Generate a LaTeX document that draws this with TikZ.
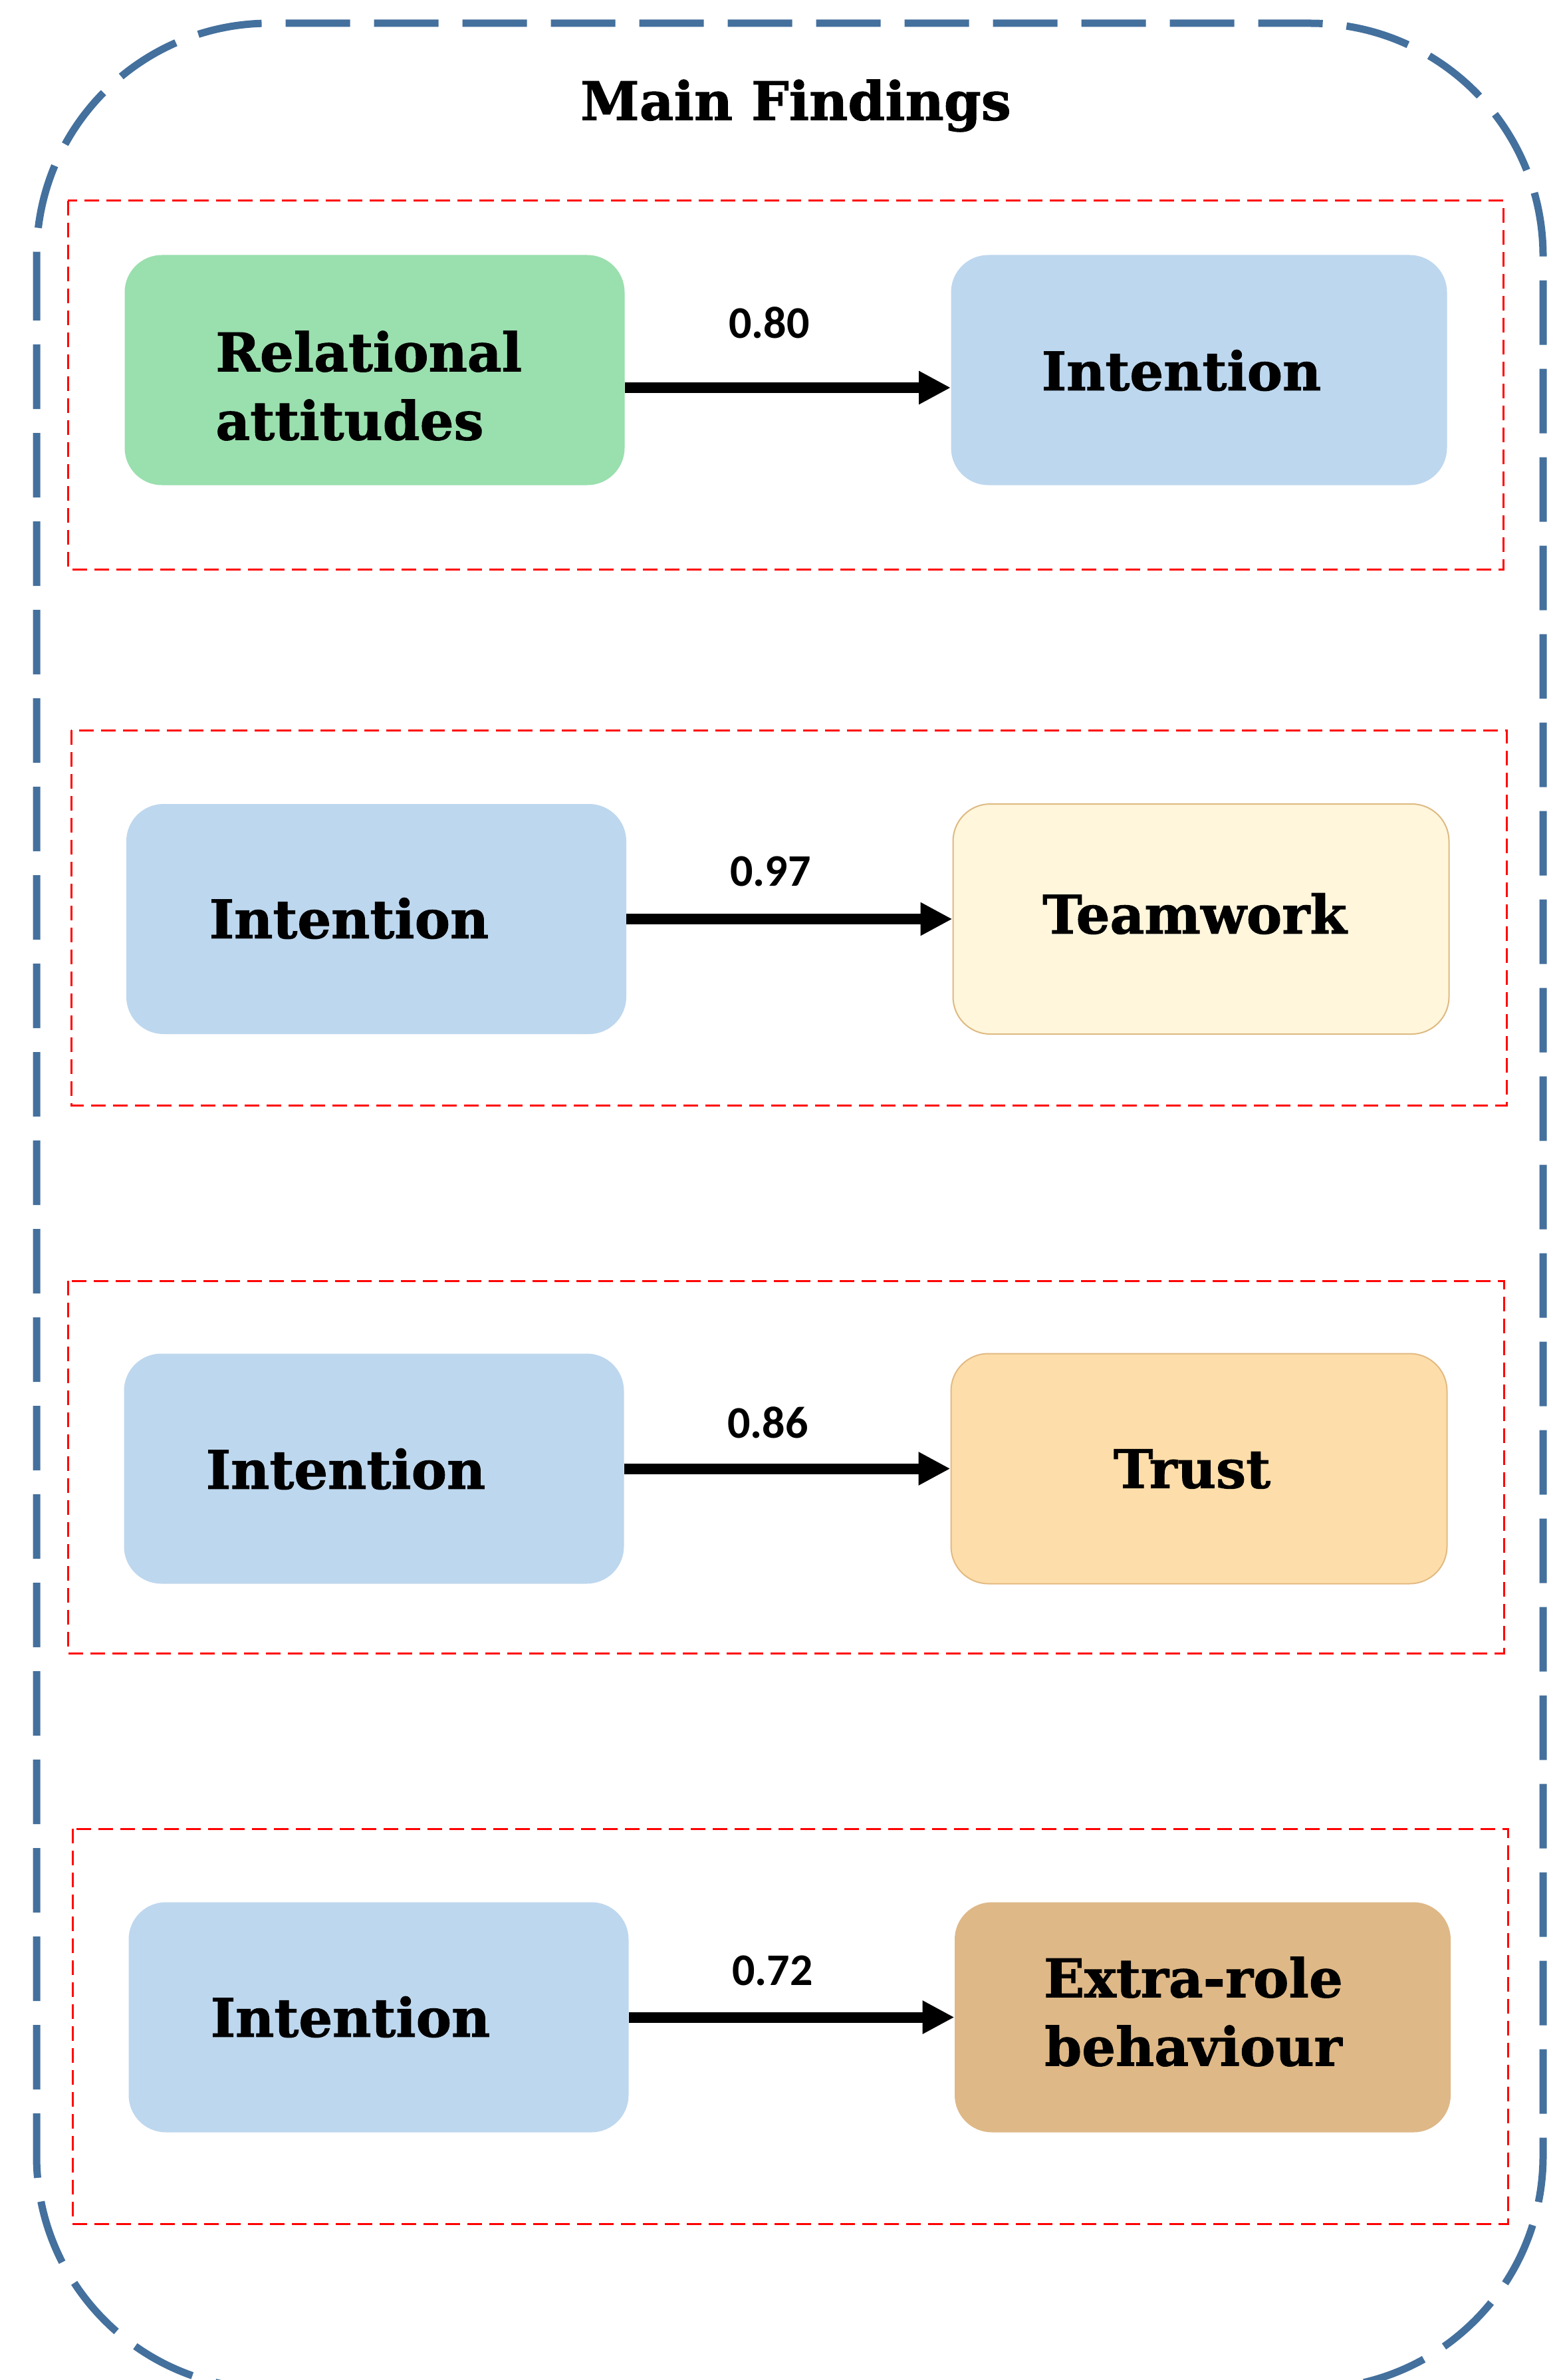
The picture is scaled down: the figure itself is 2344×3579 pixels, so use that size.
\documentclass[tikz,border=0pt]{standalone}
\usepackage{fontspec}
\setmainfont{DejaVu Serif}[BoldFeatures={FakeBold=1.2}]
\newfontfamily\coeffont{Carlito}
\usetikzlibrary{arrows.meta,calc}

\definecolor{frameblue}{RGB}{68,112,157}
\definecolor{greenfill}{RGB}{154,223,174}
\definecolor{bluefill}{RGB}{189,215,238}
\definecolor{creamfill}{RGB}{255,246,220}
\definecolor{creamline}{RGB}{222,186,130}
\definecolor{peachfill}{RGB}{253,222,170}
\definecolor{peachline}{RGB}{226,186,130}
\definecolor{tanfill}{RGB}{222,184,135}

\begin{document}
\begin{tikzpicture}[x=0.5pt,y=-0.5pt,
  frame/.style={draw=frameblue, line width=5.5pt, dash pattern=on 48.5pt off 18pt},
  group/.style={draw=red, line width=1.5pt, dash pattern=on 11pt off 5.5pt},
  box/.style={rounded corners=28pt, minimum height=173pt, inner sep=0pt},
  lbox/.style={box, minimum width=376pt},
  rbox/.style={box, minimum width=373pt},
  txt/.style={font=\bfseries\fontsize{40}{51.5}\selectfont, inner sep=0pt, align=center},
  coef/.style={font=\coeffont\bfseries\fontsize{34}{40}\selectfont, inner sep=0pt},
  link/.style={line width=8pt, -{Triangle[length=24pt,width=23.5pt]}}
]
\useasboundingbox (0,0) rectangle (2344,3579);
\clip (0,0) rectangle (2344,3579);
\fill[white] (0,0) rectangle (2344,3579);

% outer frame and title
\draw[frame, rounded corners=175pt] (55,35) rectangle (2321,3592);
\node[txt] (title) at (1197,159) {Main Findings};

% group outlines
\draw[group] (102,302) rectangle (2261,856);
\draw[group] (107,1098) rectangle (2266,1662);
\draw[group] (102,1926) rectangle (2262,2486);
\draw[group] (109,2750) rectangle (2268,3344);

% row 1
\node[lbox, fill=greenfill] (L1) at (563.5,556.5) {};
\node[txt, anchor=west, align=left] (L1t) at (324,580) {Relational\\attitudes};
\node[rbox, fill=bluefill] (R1) at (1803.5,556.5) {};
\node[txt] (R1t) at (1777,557) {Intention};
\node[coef] (c1) at (1157,485) {0.80};
\coordinate (a1) at (0,583);
\draw[link] (L1.east |- a1) -- (R1.west |- a1);

% row 2
\node[lbox, fill=bluefill] (L2) at (566,1382) {};
\node[txt] (L2t) at (525,1381) {Intention};
\node[rbox, fill=creamfill, draw=creamline, line width=1pt] (R2) at (1806.5,1382) {};
\node[txt] (R2t) at (1797,1374) {Teamwork};
\node[coef] (c2) at (1159,1310) {0.97};
\draw[link] (L2.east) -- (R2.west);

% row 3
\node[lbox, fill=bluefill] (L3) at (562.5,2208.5) {};
\node[txt] (L3t) at (520,2209) {Intention};
\node[rbox, fill=peachfill, draw=peachline, line width=1pt] (R3) at (1803.5,2208.5) {};
\node[txt] (R3t) at (1793,2209) {Trust};
\node[coef] (c3) at (1155,2139) {0.86};
\draw[link] (L3.east) -- (R3.west);

% row 4
\node[lbox, fill=bluefill] (L4) at (569.5,3033.5) {};
\node[txt] (L4t) at (527,3033) {Intention};
\node[rbox, fill=tanfill] (R4) at (1809,3033.5) {};
\node[txt] (R4t) at (1795,3025) {Extra-role\\behaviour};
\node[coef] (c4) at (1162,2963) {0.72};
\draw[link] (L4.east) -- (R4.west);
\end{tikzpicture}
\end{document}
